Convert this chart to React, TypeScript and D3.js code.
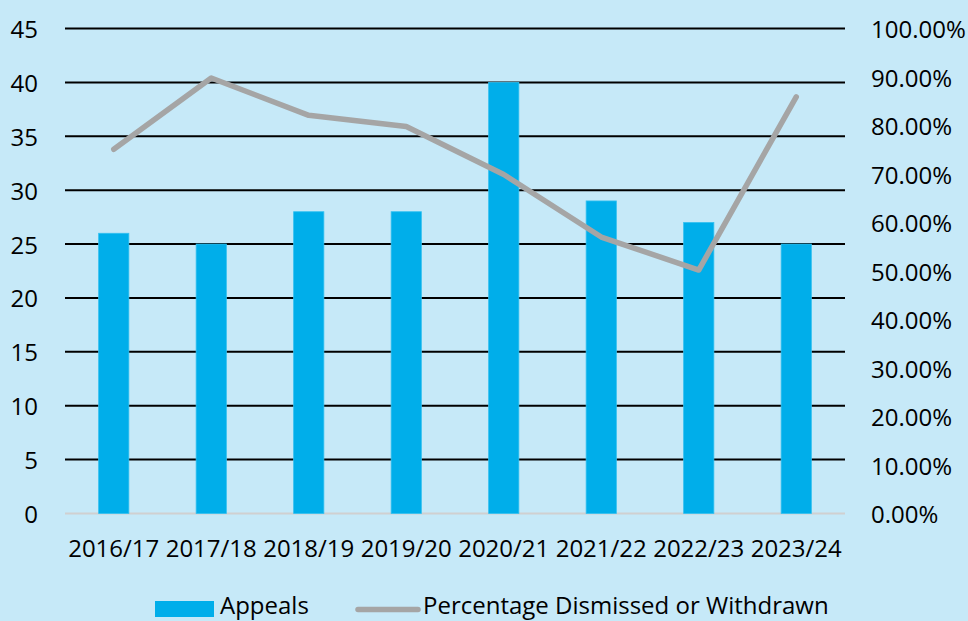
import React from "react";
import * as d3 from "d3";

const categories = ["2016/17", "2017/18", "2018/19", "2019/20", "2020/21", "2021/22", "2022/23", "2023/24"];
const appeals = [26, 25, 28, 28, 40, 29, 27, 25];
const pctDismissed = [75.1, 89.8, 82.1, 79.8, 69.9, 57.0, 50.2, 85.9];
const leftTicks = [0, 5, 10, 15, 20, 25, 30, 35, 40, 45];
const rightTicks = [0, 10, 20, 30, 40, 50, 60, 70, 80, 90, 100];

const W = 968;
const H = 621;
const BG = "#c6e9f8";
const BAR = "#00aeea";
const LINE = "#a5a5a5";
const FONT = "'Open Sans', Lato, sans-serif";

export default function App() {
  const left = 65, right = 845, top = 28.5, bottom = 513.5;
  const x = d3.scaleBand<string>().domain(categories).range([left, right]).paddingInner(0.69).paddingOuter(0.345);
  const yL = d3.scaleLinear().domain([0, 45]).range([bottom, top]);
  const yR = d3.scaleLinear().domain([0, 100]).range([bottom, top]);
  const xc = (c: string) => (x(c) as number) + x.bandwidth() / 2;
  const line = d3.line<number>().x((_, i) => xc(categories[i])).y((d) => yR(d));

  return (
    <svg width={W} height={H} style={{ position: "fixed", left: 0, top: 0, background: BG }} fontFamily={FONT}>
      <rect x={0} y={0} width={W} height={H} fill={BG} />
      {leftTicks.filter((t) => t > 0).map((t) => (
        <line key={t} x1={left} x2={right} y1={yL(t)} y2={yL(t)} stroke="#000" strokeWidth={2} />
      ))}
      <line x1={left} x2={right} y1={yL(0)} y2={yL(0)} stroke="#d0d0d0" strokeWidth={2} />
      {categories.map((c, i) => (
        <rect key={c} x={x(c)} y={yL(appeals[i])} width={x.bandwidth()} height={yL(0) - yL(appeals[i])} fill={BAR} stroke="#33c0f0" strokeWidth={0.8} />
      ))}
      <path d={line(pctDismissed) || ""} fill="none" stroke={LINE} strokeWidth={5.5} strokeLinecap="round" strokeLinejoin="round" />
      {leftTicks.map((t) => (
        <text key={t} x={38} y={yL(t)} textAnchor="end" dominantBaseline="central" fontSize={24} fill="#000">{t}</text>
      ))}
      {rightTicks.map((t) => (
        <text key={t} x={871} y={yR(t)} textAnchor="start" dominantBaseline="central" fontSize={24} fill="#000">{t.toFixed(2) + "%"}</text>
      ))}
      {categories.map((c) => (
        <text key={c} x={xc(c)} y={557} textAnchor="middle" fontSize={24} fill="#000">{c}</text>
      ))}
      <rect x={155} y={601} width={59} height={16} fill={BAR} />
      <text x={220} y={614} fontSize={24} fill="#000">Appeals</text>
      <line x1={358} x2={418} y1={609.5} y2={609.5} stroke={LINE} strokeWidth={5.5} strokeLinecap="round" />
      <text x={423} y={614} fontSize={24} fill="#000">Percentage Dismissed or Withdrawn</text>
    </svg>
  );
}
